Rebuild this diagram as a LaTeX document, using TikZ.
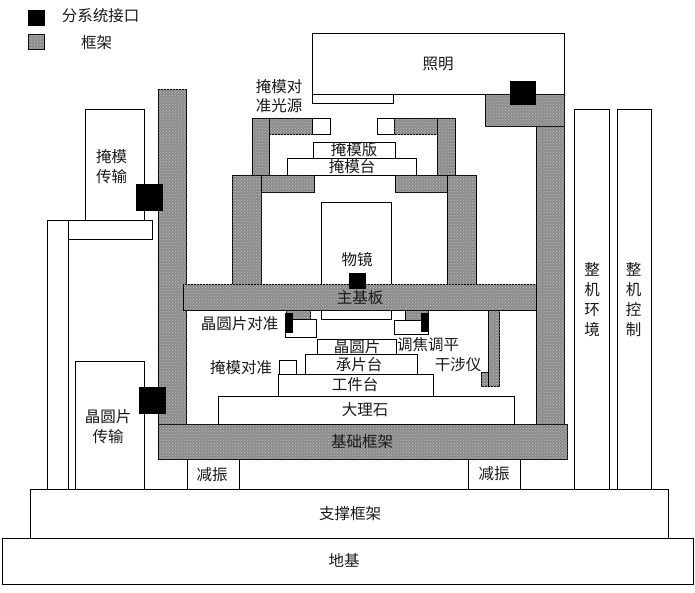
\documentclass[tikz,border=0pt]{standalone}
\usepackage{fontspec}
\setmainfont{Noto Sans CJK SC}
\usetikzlibrary{patterns}
\definecolor{framegray}{gray}{0.55}
\definecolor{framelight}{gray}{0.74}
\tikzset{
  wbox/.style={draw=black,fill=white,line width=1.3pt,line join=miter},
  gbox/.style={draw=black,fill=framegray,line width=1.3pt,postaction={pattern=crosshatch dots,pattern color=framelight}},
  kbox/.style={draw=black,fill=black,line width=0.3pt},
  lab/.style={inner sep=0pt,font=\fontsize{15.5}{17}\selectfont,align=center,text=black!90}
}
\begin{document}
\begin{tikzpicture}[x=1pt,y=-1pt]
\useasboundingbox (0,0) rectangle (695,592);
\begin{scope}[shift={(0.5,0.5)}]
% legend
\draw[kbox] (28,10) rectangle (44,25);
\draw[gbox] (28,34) rectangle (44,49);
% bottom
\draw[wbox] (2,538) rectangle (693,584);
\draw[wbox] (30,489) rectangle (668,538);
\draw[wbox] (187,459) rectangle (239,489);
\draw[wbox] (468,459) rectangle (520,489);
\draw[wbox] (574,109) rectangle (609,489);
\draw[wbox] (617,109) rectangle (651,489);
% transports
\draw[wbox] (85,109) rectangle (144,220);
\draw[wbox] (47,220) rectangle (68,489);
\draw[wbox] (68,220) rectangle (152,239);
\draw[wbox] (75,361) rectangle (144,489);
% frames
\draw[gbox] (158,89) rectangle (186,424);
\draw[gbox] (536,126) rectangle (564,424);
\draw[wbox] (312,33) rectangle (564,94);
\draw[wbox] (312,94) rectangle (393,103);
\draw[gbox] (485,94) rectangle (564,126);
\draw[gbox] (158,424) rectangle (567,459);
% top structure
\draw[gbox] (252,118) rectangle (269,175);
\draw[gbox] (269,118) rectangle (312,134);
\draw[wbox] (312,118) rectangle (330,134);
\draw[wbox] (377,118) rectangle (394,134);
\draw[gbox] (394,118) rectangle (437,134);
\draw[gbox] (437,118) rectangle (455,175);
\draw[wbox] (313,142) rectangle (395,158);
\draw[wbox] (287,158) rectangle (416,175);
\draw[gbox] (232,175) rectangle (261,284);
\draw[gbox] (261,175) rectangle (314,192);
\draw[gbox] (395,175) rectangle (447,192);
\draw[gbox] (447,175) rectangle (476,284);
% lens and base
\draw[wbox] (321,202) rectangle (391,284);
\draw[wbox] (321,309) rectangle (391,319);
\draw[gbox] (183,284) rectangle (536,310);
% sensors
\draw[gbox] (286,310) rectangle (310,319);
\draw[wbox] (285,319) rectangle (316,337);
\draw[kbox] (285,313) rectangle (292,332);
\draw[gbox] (405,310) rectangle (428,320);
\draw[wbox] (394,320) rectangle (428,334);
\draw[kbox] (421,313) rectangle (428,331);
\draw[gbox] (488,310) rectangle (499,386);
\draw[gbox] (481,372) rectangle (488,386);
% stages
\draw[wbox] (218,396) rectangle (514,424);
\draw[wbox] (278,374) rectangle (433,396);
\draw[wbox] (305,354) rectangle (417,374);
\draw[wbox] (317,339) rectangle (396,354);
\draw[wbox] (279,360) rectangle (296,374);
% interfaces
\draw[kbox] (510,81) rectangle (535,104);
\draw[kbox] (136,184) rectangle (162,210);
\draw[kbox] (139,387) rectangle (165,413);
\draw[kbox] (349,273) rectangle (365,288);
\end{scope}
% labels
\node[lab] (lgA) at (100.500,16) {分系统接口};
\node[lab] (lgB) at (96.500,43) {框架};
\node[lab] (lZm) at (438,64) {照明};
\node[lab] (lGy) at (279,96.500) {掩模对\\[2pt]准光源};
\node[lab] (lMb) at (354,150) {掩模版};
\node[lab] (lMt) at (352,167) {掩模台};
\node[lab] (lWj) at (357,260) {物镜};
\node[lab] (lZj) at (360,298) {主基板};
\node[lab] (lWd) at (239.500,324) {晶圆片对准};
\node[lab] (lWp) at (357,347) {晶圆片};
\node[lab] (lTj) at (428,345) {调焦调平};
\node[lab] (lGs) at (458,365) {干涉仪};
\node[lab] (lYd) at (241,368) {掩模对准};
\node[lab] (lCp) at (359,365) {承片台};
\node[lab] (lGj) at (355,385) {工件台};
\node[lab] (lDl) at (365,410) {大理石};
\node[lab] (lJc) at (362,442) {基础框架};
\node[lab] (lJa) at (212,475) {减振};
\node[lab] (lJb) at (494,474) {减振};
\node[lab] (lZc) at (350,514) {支撑框架};
\node[lab] (lDj) at (344,560) {地基};
\node[lab] (lYs) at (111.500,167) {掩模\\[3pt]传输};
\node[lab] (lWs) at (108,427) {晶圆片\\[3pt]传输};
\node[lab] (lHj) at (592,300) {整\\[3pt]机\\[3pt]环\\[3pt]境};
\node[lab] (lKz) at (633.500,300) {整\\[3pt]机\\[3pt]控\\[3pt]制};
\end{tikzpicture}
\end{document}
